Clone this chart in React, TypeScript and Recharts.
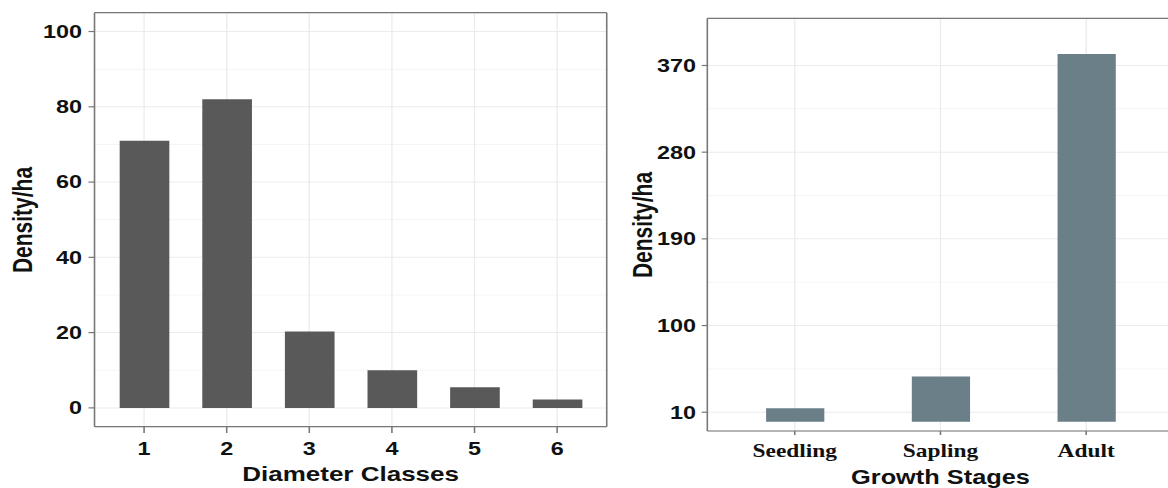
import { BarChart, Bar, XAxis, YAxis, CartesianGrid } from "recharts";

// diameter class panel
const diameterClasses = ["1", "2", "3", "4", "5", "6"];
const diameterDensity = [71, 82, 20.3, 10, 5.5, 2.2];
const diameterTicks = [0, 20, 40, 60, 80, 100];
const diameterMinorTicks = [10, 30, 50, 70, 90];

// growth stage panel
const growthStages = ["Seedling", "Sapling", "Adult"];
const growthDensity = [14, 47, 382];
const growthTicks = [10, 100, 190, 280, 370];
const growthMinorTicks = [55, 145, 235, 325];

const diameterData = diameterClasses.map((cls, i) => ({
    cls,
    density: diameterDensity[i],
}));

const growthData = growthStages.map((stage, i) => ({
    stage,
    density: growthDensity[i],
}));

// the source figure is stretched horizontally
const SX = 1.3;
const SANS = '"Liberation Sans", Arial, sans-serif';
const SERIF = '"Liberation Serif", "Times New Roman", serif';
const BORDER = "#777777";
const MAJOR = "#ebebeb";
const MINOR = "#f5f5f5";

function YTitle({ x, y }: { x: number; y: number }) {
    return (
        <div
            style={{
                position: "absolute",
                left: x,
                top: y,
                transform: "translate(-50%, -50%) rotate(-90deg)",
                whiteSpace: "nowrap",
                fontFamily: SANS,
                fontWeight: 700,
                fontSize: 21,
                color: "#111",
                lineHeight: 1,
            }}
        >
            Density/ha
        </div>
    );
}

export default function App() {
    const tickSans = {
        fill: "#111",
        fontSize: 18,
        fontWeight: 700,
        fontFamily: SANS,
    };

    // top / right axes only draw the panel border
    const borderLine = { stroke: BORDER, strokeWidth: 1.2 };

    return (
        <div
            style={{
                position: "fixed",
                left: 0,
                top: 0,
                width: 1168,
                height: 488,
                overflow: "hidden",
                background: "#fff",
            }}
        >
            <div
                style={{
                    position: "relative",
                    width: 900,
                    height: 488,
                    transform: `scaleX(${SX})`,
                    transformOrigin: "0 0",
                }}
            >
                <div style={{ position: "absolute", left: 0, top: 0 }}>
                    <BarChart
                        width={470}
                        height={488}
                        data={diameterData}
                        margin={{ top: 11.7, right: 2.3, bottom: 0, left: 0 }}
                    >
                        <CartesianGrid
                            stroke={MINOR}
                            vertical={false}
                            horizontalValues={diameterMinorTicks}
                        />
                        <CartesianGrid stroke={MAJOR} />
                        <XAxis
                            dataKey="cls"
                            height={61.3}
                            padding={{ left: 6.36, right: 6.36 }}
                            tickSize={6.3}
                            tickMargin={9.7}
                            tick={tickSans}
                            axisLine={borderLine}
                            tickLine={borderLine}
                            label={{
                                value: "Diameter Classes",
                                position: "insideBottom",
                                offset: 6.5,
                                fill: "#111",
                                fontSize: 20,
                                fontWeight: 700,
                                fontFamily: SANS,
                            }}
                        />
                        <XAxis
                            xAxisId="top"
                            orientation="top"
                            dataKey="cls"
                            height={1}
                            tick={false}
                            tickLine={false}
                            axisLine={borderLine}
                        />
                        <YAxis
                            type="number"
                            width={72.7}
                            domain={[-5, 105]}
                            ticks={diameterTicks}
                            interval={0}
                            tickSize={4.6}
                            tickMargin={5}
                            tick={tickSans}
                            axisLine={borderLine}
                            tickLine={borderLine}
                        />
                        <YAxis
                            yAxisId="right"
                            orientation="right"
                            width={1}
                            tick={false}
                            tickLine={false}
                            axisLine={borderLine}
                        />
                        <Bar
                            dataKey="density"
                            fill="#595959"
                            barSize={38.2}
                            isAnimationActive={false}
                        />
                    </BarChart>
                </div>
                <YTitle x={16.7} y={219.7} />

                <div style={{ position: "absolute", left: 470, top: 0 }}>
                    <BarChart
                        width={450}
                        height={488}
                        data={growthData}
                        margin={{ top: 17.3, right: 16.2, bottom: 0, left: 0 }}
                    >
                        <CartesianGrid
                            stroke={MINOR}
                            vertical={false}
                            horizontalValues={growthMinorTicks}
                        />
                        <CartesianGrid stroke={MAJOR} />
                        <XAxis
                            dataKey="stage"
                            height={57}
                            padding={{ left: 11.2, right: 11.2 }}
                            tickSize={4}
                            tickMargin={9}
                            tick={{
                                fill: "#111",
                                fontSize: 18,
                                fontWeight: 700,
                                fontFamily: SERIF,
                            }}
                            axisLine={borderLine}
                            tickLine={borderLine}
                            label={{
                                value: "Growth Stages",
                                position: "insideBottom",
                                offset: 4,
                                fill: "#111",
                                fontSize: 19.5,
                                fontWeight: 700,
                                fontFamily: SANS,
                            }}
                        />
                        <XAxis
                            xAxisId="top"
                            orientation="top"
                            dataKey="stage"
                            height={1}
                            tick={false}
                            tickLine={false}
                            axisLine={borderLine}
                        />
                        <YAxis
                            type="number"
                            width={74.1}
                            domain={[-9.5, 419]}
                            ticks={growthTicks}
                            interval={0}
                            tickSize={4.3}
                            tickMargin={4.4}
                            tick={tickSans}
                            axisLine={borderLine}
                            tickLine={borderLine}
                        />
                        <YAxis
                            yAxisId="right"
                            orientation="right"
                            width={1}
                            tick={false}
                            tickLine={false}
                            axisLine={borderLine}
                        />
                        <Bar
                            dataKey="density"
                            fill="#6a7f88"
                            barSize={44.8}
                            isAnimationActive={false}
                        />
                    </BarChart>
                </div>
                <YTitle x={493.6} y={224.6} />
            </div>
        </div>
    );
}
